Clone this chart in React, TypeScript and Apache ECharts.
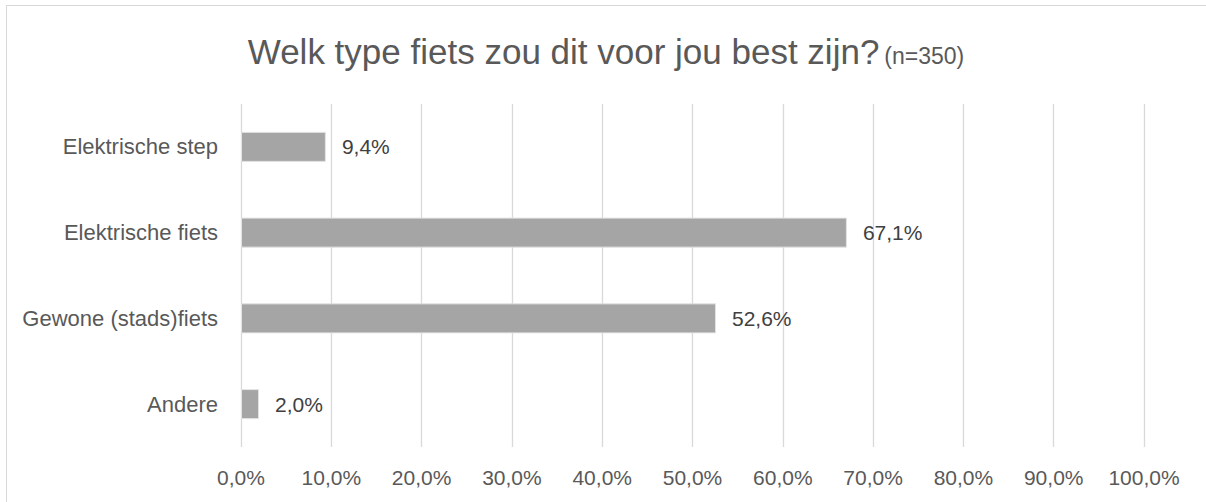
import React, { useEffect, useRef } from "react";
import * as echarts from "echarts";

const categories = ["Andere", "Gewone (stads)fiets", "Elektrische fiets", "Elektrische step"];
const values = [2.0, 52.6, 67.1, 9.4];
const titleMain = "Welk type fiets zou dit voor jou best zijn?";
const titleSub = "(n=350)";

const FONT = "'Liberation Sans', Arial, sans-serif";
const fmt = (v: number) => v.toFixed(1).replace(".", ",") + "%";

export default function App() {
  const ref = useRef<HTMLDivElement>(null);
  useEffect(() => {
    if (!ref.current) return;
    const chart = echarts.init(ref.current, undefined, { renderer: "svg" });
    chart.setOption({
      animation: false,
      title: {
        text: `{a|${titleMain}} {b|${titleSub}}`,
        left: 601,
        textAlign: "center",
        top: 29,
        textStyle: {
          fontWeight: "normal",
          rich: {
            a: { fontFamily: FONT, fontSize: 35, color: "#595959", fontWeight: "normal" },
            b: {
              fontFamily: FONT,
              fontSize: 23,
              color: "#595959",
              fontWeight: "normal",
              padding: [9, 0, 0, 0],
            },
          },
        },
      },
      grid: { left: 241, right: 62, top: 104, bottom: 55, containLabel: false },
      xAxis: {
        type: "value",
        min: 0,
        max: 100,
        interval: 10,
        axisLine: { show: false },
        axisTick: { show: false },
        splitLine: { show: true, lineStyle: { color: "#D9D9D9", width: 1.3 } },
        axisLabel: {
          formatter: (v: number) => fmt(v),
          color: "#595959",
          fontFamily: FONT,
          fontSize: 21,
          margin: 20,
        },
      },
      yAxis: {
        type: "category",
        data: categories,
        axisLine: { show: false },
        axisTick: { show: false },
        axisLabel: { color: "#595959", fontFamily: FONT, fontSize: 22, margin: 23 },
      },
      series: [
        {
          type: "bar",
          data: values,
          barWidth: "35%",
          itemStyle: { color: "#A5A5A5", borderColor: "#E3E3E3", borderWidth: 1 },
          label: {
            show: true,
            position: "right",
            distance: 16,
            formatter: (p: any) => fmt(p.value),
            color: "#404040",
            fontFamily: FONT,
            fontSize: 21,
          },
        },
      ],
    });
    return () => chart.dispose();
  }, []);
  return (
    <div
      style={{
        position: "fixed",
        left: 0,
        top: 0,
        width: 1206,
        height: 502,
        overflow: "hidden",
        background: "#fff",
      }}
    >
      <div
        style={{
          position: "absolute",
          left: 6,
          top: 5,
          width: 1300,
          height: 600,
          borderTop: "1.5px solid #D9D9D9",
          borderLeft: "1.5px solid #D9D9D9",
          boxSizing: "border-box",
        }}
      />
      <div ref={ref} style={{ position: "absolute", left: 0, top: 0, width: 1206, height: 502 }} />
    </div>
  );
}
